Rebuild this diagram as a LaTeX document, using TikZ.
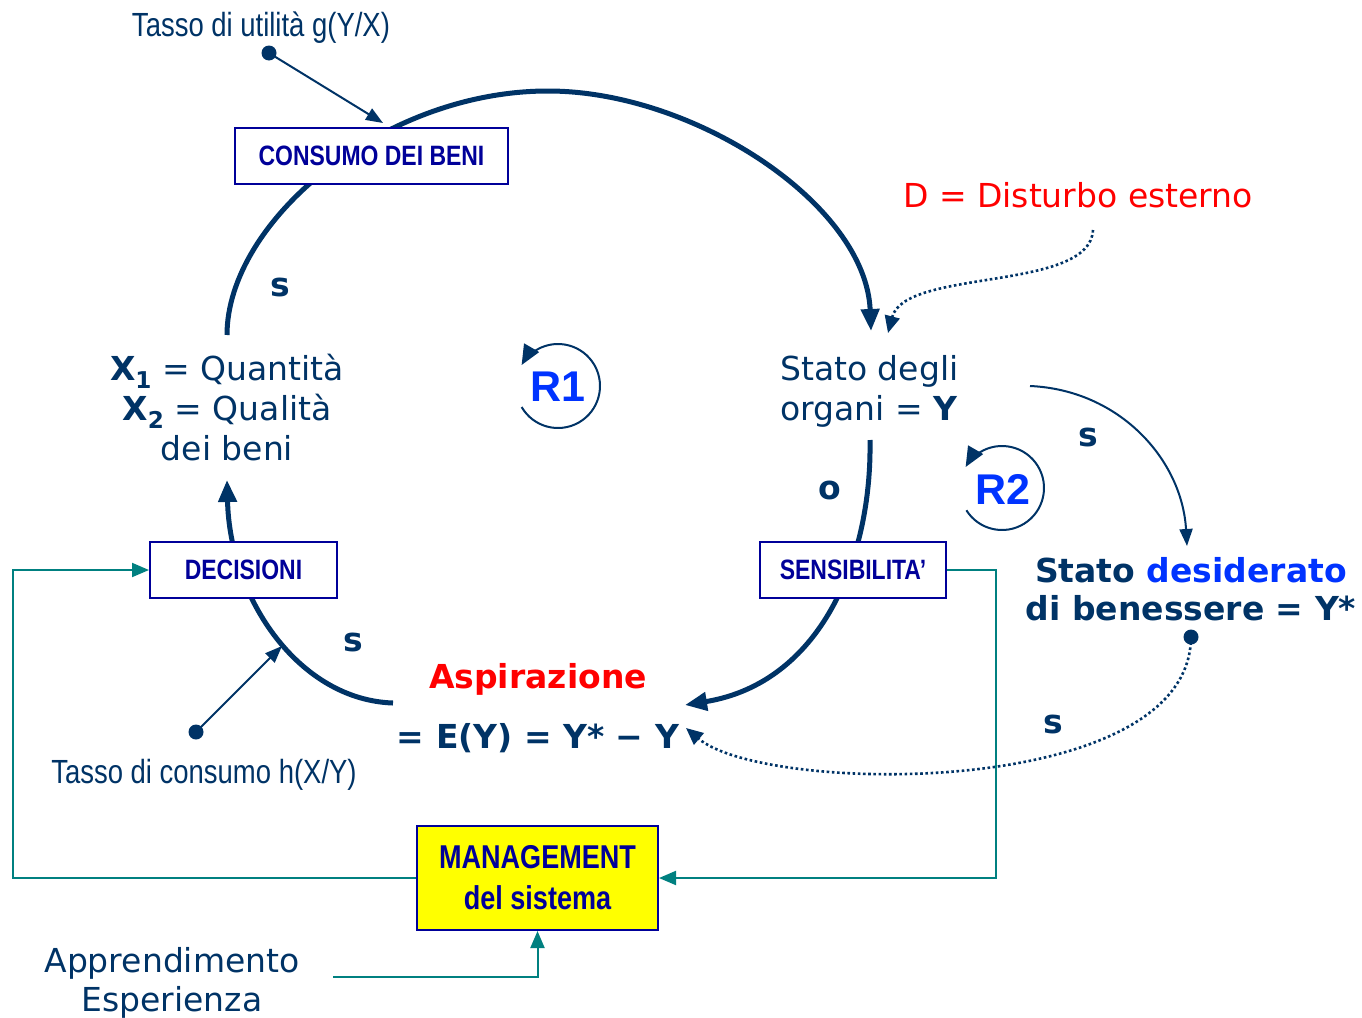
\documentclass[tikz,border=0pt]{standalone}
\usepackage{fontspec}
\setmainfont{DejaVu Sans}
\newfontfamily\narrowfont[FakeStretch=0.82]{Liberation Sans}
\newfontfamily\arialfont{Liberation Sans}
\usetikzlibrary{arrows.meta}
\definecolor{navy}{RGB}{0,51,102}
\definecolor{boxblue}{RGB}{0,0,153}
\definecolor{brightblue}{RGB}{0,51,255}
\definecolor{tealline}{RGB}{0,128,128}
\definecolor{redtxt}{RGB}{255,0,0}
\definecolor{mgmtfill}{RGB}{255,255,0}

\tikzset{
  body/.style={font=\fontsize{33}{40}\selectfont, text=navy, inner sep=0pt},
  bodybold/.style={font=\fontsize{33}{40}\selectfont\bfseries, text=navy, inner sep=0pt},
  narrowtxt/.style={font=\narrowfont\fontsize{33.5}{40}\selectfont, text=navy, inner sep=0pt},
  labelbox/.style={draw=boxblue, line width=2pt, fill=white, text=boxblue,
    font=\narrowfont\bfseries\fontsize{28}{34}\selectfont, minimum height=56pt, inner sep=0pt},
  loopname/.style={font=\arialfont\bfseries\fontsize{43}{50}\selectfont, text=brightblue, inner sep=0pt},
  mainflow/.style={draw=navy, line width=5pt, -{Triangle[length=22pt,width=18pt]}},
  thinflow/.style={draw=navy, line width=2pt, -{Triangle[length=17pt,width=13pt]}},
  dottedflow/.style={draw=navy, line width=2.6pt, dash pattern=on 2.6pt off 2.6pt,
    -{Triangle[length=17pt,width=15pt]}},
  loopcircle/.style={draw=navy, line width=2pt, -{Triangle[length=20pt,width=17pt]}},
  tealflow/.style={draw=tealline, line width=2pt, -{Triangle[length=17pt,width=14pt]}},
  dotnode/.style={circle, fill=navy, minimum size=15pt, inner sep=0pt},
  polarity/.style={font=\fontsize{33}{40}\selectfont\bfseries, text=navy, inner sep=0pt},
}

\begin{document}
\begin{tikzpicture}[x=1pt,y=-1pt]
\useasboundingbox (0,0) rectangle (1362,1017);

% ---------- end points of the main loop ----------
\coordinate (xtop) at (227,335);
\coordinate (ytop) at (871,331);
\coordinate (ybot) at (870,440);
\coordinate (aspR) at (685,705);
\coordinate (aspL) at (393,703);
\coordinate (xbot) at (227,480);

% ---------- main loop (thick arrows) ----------
\draw[mainflow] (xtop) .. controls (227,222) and (382,91) .. (548,91)
                       .. controls (695,91) and (866,205) .. (ytop);
\draw[mainflow] (ybot) .. controls (872,560) and (820,683) .. (aspR);
\draw[mainflow] (aspL) .. controls (300,700) and (230,600) .. (xbot);

% ---------- loop markers (angles in page orientation) ----------
\coordinate (r1c) at (558,386);
\coordinate (r2c) at (1002,488);
\draw[loopcircle] (r1c) ++(-150:42pt) arc[start angle=-150, end angle=150, radius=42pt];
\node[loopname] (r1) at (558,387) {R1};
\draw[loopcircle] (r2c) ++(-148:42pt) arc[start angle=-148, end angle=150, radius=42pt];
\node[loopname] (r2) at (1003,489) {R2};

% ---------- texts ----------
\node[narrowtxt, anchor=base] (gtxt) at (261,36) {Tasso di utilità g(Y/X)};
\node[body, text=redtxt, anchor=base west] (dtxt) at (903,207) {D = Disturbo esterno};

\node[body, anchor=base west] (st1) at (780,380) {Stato degli};
\node[body, anchor=base west] (st2) at (780,420) {organi = \textbf{Y}};

\node[body, anchor=base] (xq1) at (227,380) {\textbf{X\textsubscript{1}} = Quantità};
\node[body, anchor=base] (xq2) at (227,420) {\textbf{X\textsubscript{2}} = Qualità};
\node[body, anchor=base] (xq3) at (227,460) {dei beni};

\node[bodybold, anchor=base] (sd1) at (1191,582) {Stato \textcolor{brightblue}{desiderato}};
\node[bodybold, anchor=base] (sd2) at (1191,620) {di benessere = Y*};

\node[bodybold, text=redtxt, anchor=base] (asp1) at (538,688) {Aspirazione};
\node[bodybold, anchor=base] (asp2) at (538,748) {= E(Y) = Y* − Y};

\node[narrowtxt, anchor=base] (htxt) at (204,783) {Tasso di consumo h(X/Y)};

\node[body, anchor=base] (ap1) at (172,972) {Apprendimento};
\node[body, anchor=base] (ap2) at (172,1011) {Esperienza};

% ---------- polarities ----------
\node[polarity] (p1) at (280,287) {s};
\node[polarity] (p2) at (353,642) {s};
\node[polarity] (p3) at (830,490) {o};
\node[polarity] (p4) at (1088,437) {s};
\node[polarity] (p5) at (1053,724) {s};

% ---------- side influences ----------
\node[dotnode] (gdot) at (269,53) {};
\coordinate (gtip) at (383,123);
\draw[thinflow] (gdot.center) -- (gtip);

\node[dotnode] (hdot) at (196,732) {};
\coordinate (htip) at (282,646);
\draw[thinflow] (hdot.center) -- (htip);

\coordinate (dstart) at (1093,230);
\coordinate (dtip) at (888,333);
\draw[dottedflow] (dstart) .. controls (1090,292) and (905,268) .. (dtip);

\node[dotnode] (ydot) at (1191,637) {};
\coordinate (ytip) at (686,728);
\draw[dottedflow] (ydot.center) .. controls (1190,800) and (765,795) .. (ytip);

\coordinate (sstart) at (1030,386);
\coordinate (stip) at (1187,546);
\draw[thinflow] (sstart) .. controls (1120,390) and (1182,460) .. (stip);

% ---------- boxes ----------
\node[labelbox, minimum width=273pt] (cons) at (371.5,156) {CONSUMO DEI BENI};
\node[labelbox, minimum width=187pt] (dec) at (243.5,570) {DECISIONI};
\node[labelbox, minimum width=186pt] (sens) at (853,570) {SENSIBILITA’};
\node[draw=boxblue, line width=2pt, fill=mgmtfill, text=boxblue, minimum width=241pt,
      minimum height=104pt, inner sep=0pt, align=center,
      font=\narrowfont\bfseries\fontsize{33}{41}\selectfont] (mgmt) at (537.5,878)
      {MANAGEMENT\\del sistema};

% ---------- management feedback ----------
\coordinate (rrail) at (996,878);
\coordinate (lrail) at (13,570);
\coordinate (apstart) at (333,977);
\draw[tealflow] (sens.east) -| (rrail) -- (mgmt.east);
\draw[tealflow] (mgmt.west) -| (lrail) -- (dec.west);
\draw[tealflow] (apstart) -| (mgmt.south);
\end{tikzpicture}
\end{document}
